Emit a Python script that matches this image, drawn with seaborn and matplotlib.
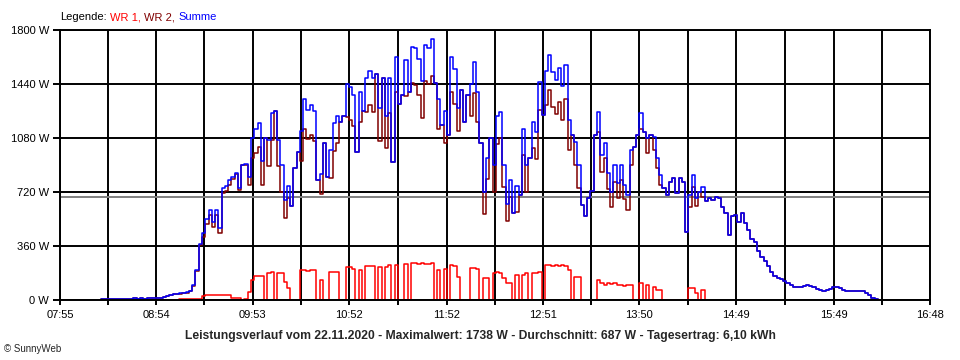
"""SunnyWeb Leistungsverlauf vom 22.11.2020 als Linienchart (WR 1, WR 2, Summe)."""
import numpy as np
import pandas as pd
import matplotlib
matplotlib.use("Agg")
import matplotlib.pyplot as plt
import seaborn as sns

# Messwerte alle 2 Minuten ab 08:20
START = "08:20"
STEP_MIN = 2

summe = [
    5, 5, 6, 6, 7, 8, 8, 9, 9, 10,
    12, 10, 11, 10, 12, 12, 13, 14, 16, 20,
    28, 33, 40, 42, 45, 50, 55, 62, 100, 200,
    375, 450, 540, 600, 520, 600, 480, 750, 760, 800,
    820, 850, 750, 900, 910, 820, 1080, 1140, 1180, 930,
    1080, 1070, 1250, 1260, 1070, 900, 670, 760, 630, 880,
    990, 1130, 1340, 1270, 1300, 1260, 800, 840, 1050, 820,
    1000, 1180, 1230, 1190, 1230, 1440, 1420, 1370, 990, 1390,
    1260, 1480, 1530, 1480, 1510, 1280, 1480, 1230, 1480, 920,
    1620, 1310, 1370, 1600, 1390, 1690, 1680, 1610, 1460, 1700,
    1680, 1738, 1450, 1340, 1170, 1260, 1100, 1620, 1540, 1280,
    1400, 1190, 1370, 1440, 1590, 1390, 1050, 720, 950, 1080,
    900, 1230, 1256, 900, 640, 800, 580, 760, 700, 1140,
    900, 944, 1190, 1120, 1456, 1233, 1530, 1633, 1520, 1470,
    1544, 1430, 1567, 1200, 1100, 1056, 900, 633, 560, 678,
    730, 1100, 1256, 967, 1050, 850, 722, 900, 780, 900,
    767, 700, 1000, 1020, 1100, 1250, 1122, 1078, 1100, 1090,
    950, 833, 744, 700, 789, 811, 711, 811, 789, 456,
    700, 833, 680, 720, 756, 660, 678, 667, 690, 680,
    620, 580, 433, 560, 570, 522, 578, 511, 470, 410,
    385, 330, 285, 262, 225, 185, 162, 150, 140, 128,
    115, 97, 90, 87, 90, 95, 100, 93, 85, 75,
    65, 62, 65, 72, 85, 88, 78, 68, 62, 60,
    60, 62, 62, 58, 50, 33, 14, 5, 3,
]

nan = np.nan
wr1 = [
    nan, nan, nan, nan, nan, nan, nan, nan, nan, nan,
    nan, nan, nan, nan, nan, nan, nan, nan, nan, nan,
    nan, nan, 3, 3, 4, 4, 5, 5, 5, 6,
    6, 30, 33, 33, 36, 33, 33, 35, 33, 33,
    12, 11, 14, 0, 10, 56, 133, 162, 162, 162,
    0, 178, 184, 0, 178, 178, 122, 78, 0, 0,
    0, 200, 200, 195, 200, 200, 0, 133, 0, 0,
    189, 189, 185, 0, 0, 217, 217, 210, 0, 200,
    0, 229, 229, 225, 0, 217, 0, 217, 233, 0,
    233, 0, 0, 238, 0, 244, 244, 240, 244, 242,
    238, 244, 0, 200, 0, 210, 0, 233, 230, 156,
    0, 0, 0, 211, 211, 205, 0, 144, 144, 0,
    178, 189, 178, 144, 111, 111, 0, 170, 0, 170,
    178, 0, 178, 178, 189, 0, 233, 236, 230, 233,
    225, 233, 230, 200, 0, 156, 156, 0, 0, 0,
    0, 0, 133, 111, 100, 111, 105, 111, 100, 100,
    95, 100, 100, 0, 0, 111, 0, 100, 0, 90,
    67, 67, 0, 0, 0, 0, 0, 0, 0, 0,
    78, 78, 50, 0, 66, 0, nan, nan, nan, nan,
] + [nan] * 49

wr2 = [
    5, 5, 6, 6, 7, 8, 8, 9, 9, 10,
    12, 10, 11, 10, 12, 12, 13, 14, 16, 20,
    28, 33, 37, 39, 41, 46, 50, 57, 95, 194,
    369, 420, 507, 567, 484, 567, 447, 715, 727, 767,
    808, 839, 736, 900, 900, 764, 947, 978, 1018, 768,
    1080, 892, 1066, 1260, 892, 722, 548, 682, 630, 880,
    990, 930, 1140, 1075, 1100, 1060, 800, 707, 1050, 820,
    811, 991, 1045, 1190, 1230, 1223, 1203, 1160, 990, 1190,
    1260, 1251, 1301, 1255, 1510, 1063, 1480, 1013, 1247, 920,
    1387, 1310, 1370, 1362, 1390, 1446, 1436, 1370, 1216, 1458,
    1442, 1494, 1450, 1140, 1170, 1050, 1100, 1387, 1310, 1124,
    1400, 1190, 1370, 1229, 1379, 1185, 1050, 576, 806, 1080,
    722, 1041, 1078, 756, 529, 689, 580, 590, 700, 970,
    722, 944, 1012, 942, 1267, 1233, 1297, 1397, 1290, 1237,
    1319, 1197, 1337, 1000, 1100, 900, 744, 633, 560, 678,
    730, 1100, 1123, 856, 950, 739, 617, 789, 680, 800,
    672, 600, 900, 1020, 1100, 1139, 1122, 978, 1100, 1000,
    883, 766, 744, 700, 789, 811, 711, 811, 789, 456,
    622, 755, 630, 720, 690, 660, 678, 667, 690, 680,
    620, 580, 433, 560, 570, 522, 578, 511, 470, 410,
    385, 330, 285, 262, 225, 185, 162, 150, 140, 128,
    115, 97, 90, 87, 90, 95, 100, 93, 85, 75,
    65, 62, 65, 72, 85, 88, 78, 68, 62, 60,
    60, 62, 62, 58, 50, 33, 14, 5, 3,
]

x_labels = ["07:55", "08:54", "09:53", "10:52", "11:52",
            "12:51", "13:50", "14:49", "15:49", "16:48"]
y_ticks = [0, 360, 720, 1080, 1440, 1800]

datum = "22.11.2020"
maximalwert = 1738
durchschnitt = 687
tagesertrag = "6,10"

COLORS = {"WR 1": "#ff0000", "WR 2": "#800000", "Summe": "#0000ff"}


def to_min(hhmm):
    h, m = hhmm.split(":")
    return int(h) * 60 + int(m)


minutes = to_min(START) + STEP_MIN * np.arange(len(summe))
df = pd.DataFrame({"minute": minutes, "WR 1": wr1, "WR 2": wr2, "Summe": summe})

sns.set_theme(style="white")
plt.rcParams["font.family"] = ["Liberation Sans", "DejaVu Sans"]

fig = plt.figure(figsize=(9.6, 3.6), dpi=100)
ax = fig.add_axes([60 / 960, 60 / 360, 870 / 960, 270 / 360])

for col in ["WR 1", "WR 2", "Summe"]:
    sns.lineplot(data=df, x="minute", y=col, color=COLORS[col], linewidth=1.1,
                 drawstyle="steps-post", estimator=None, ax=ax)

ax.axhline(durchschnitt, color="#808080", linewidth=1.4, zorder=1.5)

major = [to_min(t) for t in x_labels]
minor = [(a + b) / 2 for a, b in zip(major[:-1], major[1:])]
ticks, labels = [], []
for i, m in enumerate(major):
    ticks.append(m)
    labels.append(x_labels[i])
    if i < len(minor):
        ticks.append(minor[i])
        labels.append("")
ax.set_xticks(ticks)
ax.set_xticklabels(labels)
ax.set_xlim(major[0], major[-1])
ax.set_ylim(0, 1800)
ax.set_yticks(y_ticks)
ax.set_yticklabels([f"{v} W" for v in y_ticks])
ax.set_xlabel("")
ax.set_ylabel("")

ax.set_axisbelow(True)
ax.grid(True, color="black", linewidth=1.4)
ax.tick_params(axis="x", bottom=True, length=3.5, width=1.4, color="black",
               labelsize=8, pad=4, labelcolor="black")
ax.tick_params(axis="y", left=True, length=5, width=1.4, color="black",
               labelsize=8, pad=3, labelcolor="black")
for sp in ax.spines.values():
    sp.set_color("black")
    sp.set_linewidth(1.4)

# Legende oben links, mehrfarbig
t = fig.text(60 / 960, 1 - 17 / 360, "Legende:", fontsize=8, va="center", color="black")
for name in ["WR 1", "WR 2", "Summe"]:
    txt = name + ("," if name != "Summe" else "")
    t = ax.annotate(txt, xy=(1, 0), xycoords=t, xytext=(2.5, 0),
                    textcoords="offset points", va="bottom", ha="left",
                    fontsize=8, color=COLORS[name], annotation_clip=False)

fig.text(480 / 960, 1 - 336 / 360,
         f"Leistungsverlauf vom {datum} - Maximalwert: {maximalwert} W - "
         f"Durchschnitt: {durchschnitt} W - Tagesertrag: {tagesertrag} kWh",
         ha="center", va="center", fontsize=8.7, fontweight="bold")
fig.text(4 / 960, 1 - 349 / 360, "© SunnyWeb", fontsize=7, va="center")

fig.savefig("out.png", dpi=100, facecolor="white")
